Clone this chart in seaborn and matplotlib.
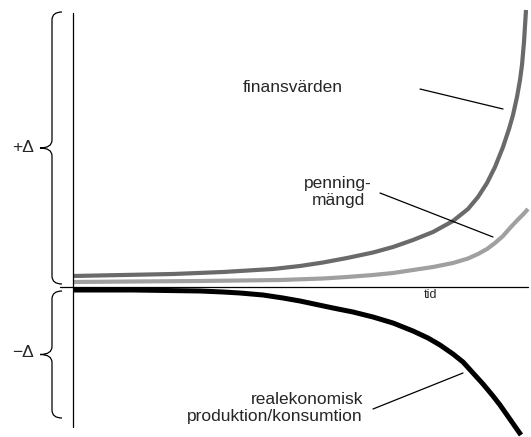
import matplotlib
matplotlib.use("Agg")
import matplotlib.pyplot as plt
import seaborn as sns
from matplotlib.path import Path
from matplotlib.patches import PathPatch

# time axis (tid) and the three series
tid_fin = [0, 50, 100, 150, 200, 227, 250, 274, 300, 320, 340, 360, 380, 395,
           405, 414, 422, 430, 436, 440, 444, 447, 449, 451, 453]
finansvarden = [11, 12, 13, 15, 18, 21, 24.5, 29, 34.5, 40, 47, 55, 66, 78,
                90, 104, 120, 140, 158, 172, 190, 207, 222, 245, 277]

tid_pen = [0, 60, 127, 207, 250, 274, 300, 320, 340, 360, 380, 395, 405, 414,
           422, 430, 437, 444, 450, 455]
penningmangd = [5, 5.5, 6, 7, 8.5, 10, 12, 14, 17, 20, 24, 28.5, 33, 38,
                44, 51, 59, 66.5, 72.5, 78]

tid_real = [0, 60, 127, 150, 167, 190, 210, 227, 260, 280, 300, 320, 340, 355,
            367, 380, 390, 400, 410, 420, 427, 434, 441, 448]
realekonomi = [-3, -3, -4, -5, -6, -8, -11, -14, -21, -25, -30, -36, -44, -51,
               -58, -67, -75, -86, -97, -109, -118, -128, -138, -148]

sns.set_style("white")
plt.rcParams['font.family'] = ['Liberation Sans', 'DejaVu Sans']

fig = plt.figure(figsize=(5.31, 4.37), dpi=100)
ax = fig.add_axes([0, 0, 1, 1])
ax.set_xlim(-73, 458)
ax.set_ylim(-150, 287)
ax.axis("off")

sns.lineplot(x=tid_fin, y=finansvarden, ax=ax, color="#6a6a6a", linewidth=3.0,
             clip_on=False, solid_capstyle="butt")
sns.lineplot(x=tid_pen, y=penningmangd, ax=ax, color="#a0a0a0", linewidth=3.0,
             clip_on=False, solid_capstyle="butt")
sns.lineplot(x=tid_real, y=realekonomi, ax=ax, color="black", linewidth=3.6,
             clip_on=False, solid_capstyle="butt")

# axes
ax.plot([0, 0], [-140, 274], color="black", lw=0.9)
ax.plot([-13, 455], [0, 0], color="black", lw=0.9)
ax.text(358, -8, "tid", fontsize=9, ha="center", va="center")


def brace(top, bot, xr=-11, xv=-21, xt=-33):
    mid = (top + bot) / 2
    r = 8
    verts = [(xr, top), (xv, top), (xv, top - r),
             (xv, mid + r), (xv, mid), (xt, mid),
             (xv, mid), (xv, mid - r),
             (xv, bot + r), (xv, bot), (xr, bot)]
    codes = [Path.MOVETO, Path.CURVE3, Path.CURVE3,
             Path.LINETO, Path.CURVE3, Path.CURVE3,
             Path.CURVE3, Path.CURVE3,
             Path.LINETO, Path.CURVE3, Path.CURVE3]
    ax.add_patch(PathPatch(Path(verts, codes), fill=False, lw=0.9,
                           edgecolor="black", clip_on=False))
    return mid


m1 = brace(275, 3)
m2 = brace(-4, -131)
ax.text(-50, m1, "+Δ", fontsize=12.5, ha="center", va="center")
ax.text(-50, m2 + 2, "−Δ", fontsize=12.5, ha="center", va="center")

# labels with leader lines
ax.text(170, 200, "finansvärden", fontsize=12.5, ha="left", va="center")
ax.plot([347, 430], [198, 178], color="black", lw=0.9)

ax.text(265, 95, "penning-\nmängd", fontsize=12.5, ha="center", va="center",
        multialignment="center", linespacing=1.2)
ax.plot([307, 420], [94, 50], color="black", lw=0.9)

ax.text(290, -121, "realekonomisk\nproduktion/konsumtion", fontsize=12.5,
        ha="right", va="center", multialignment="right", linespacing=1.2)
ax.plot([300, 390], [-122, -86], color="black", lw=0.9)

fig.savefig("out.png", dpi=100)
